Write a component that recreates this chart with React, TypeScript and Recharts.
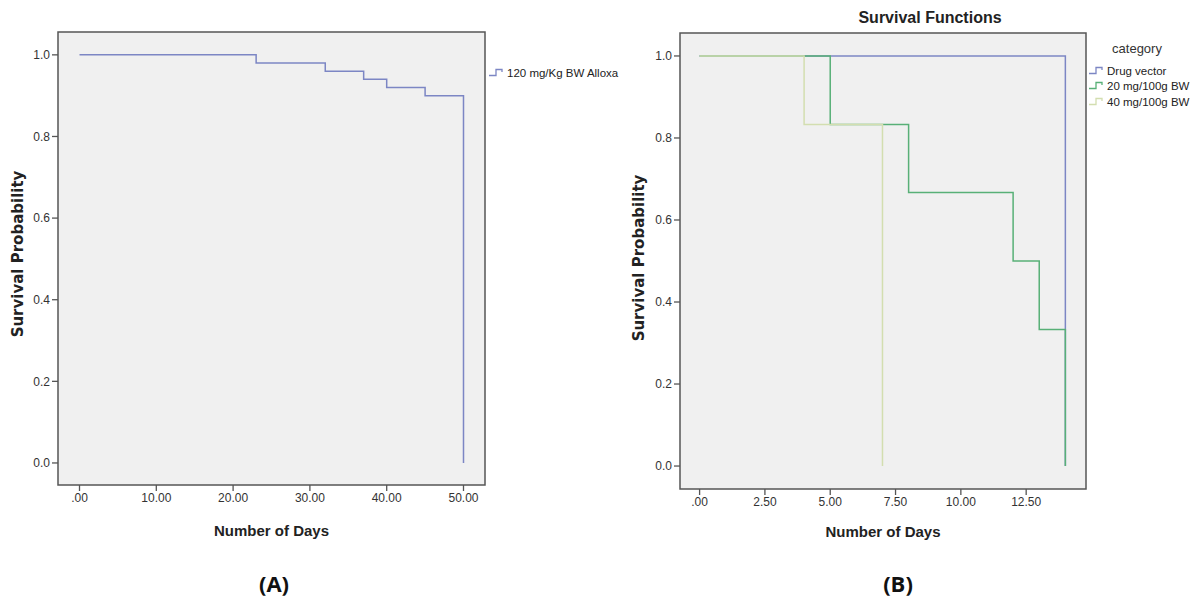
import React from "react";
import { LineChart, Line, XAxis, YAxis, CartesianGrid, ReferenceArea } from "recharts";

// ---- Data (A) ----
const alloxanDays = [0, 23, 32, 37, 40, 45, 50];
const alloxanSurvival = [1.0, 0.98, 0.96, 0.94, 0.92, 0.9, 0.0];
const ticksA = [0, 10, 20, 30, 40, 50];

// ---- Data (B) ----
const vectorDays = [0, 14];
const vectorSurvival = [1.0, 0.0];
const dose20Days = [0, 5, 8, 12, 13, 14];
const dose20Survival = [1.0, 0.833, 0.667, 0.5, 0.333, 0.0];
const dose40Days = [0, 4, 7];
const dose40Survival = [1.0, 0.833, 0.0];
const ticksB = [0, 2.5, 5, 7.5, 10, 12.5];

const yTicks = [0, 0.2, 0.4, 0.6, 0.8, 1.0];

const seriesALabels = ["120 mg/Kg BW Alloxa"];
const seriesBLabels = ["Drug vector", "20 mg/100g BW", "40 mg/100g BW"];

const BLUE = "#7c86c4";
const GREEN = "#58b077";
const LIGHT = "#d3deb0";
const FRAME = "#555555";

const toPoints = (xs: number[], ys: number[]) => xs.map((x, i) => ({ x, y: ys[i] }));

const dataA = toPoints(alloxanDays, alloxanSurvival);
const dataVector = toPoints(vectorDays, vectorSurvival);
const data20 = toPoints(dose20Days, dose20Survival);
const data40 = toPoints(dose40Days, dose40Survival);

const FONT = "'Liberation Sans', Arial, sans-serif";
const tickStyle = { fontSize: 12, fill: "#333", fontFamily: FONT };
const fmtX = (v: number) => (v === 0 ? ".00" : v.toFixed(2));
const fmtY = (v: number) => v.toFixed(1);

const StepIcon = ({ color }: { color: string }) => (
  <svg width={16} height={10} style={{ display: "block" }}>
    <path d="M0,7.5 H7 V1.5 H13 V4" fill="none" stroke={color} strokeWidth={1.3} />
  </svg>
);

const LegendRow = ({ color, label }: { color: string; label: string }) => (
  <div style={{ display: "flex", alignItems: "center", height: 15.5 }}>
    <StepIcon color={color} />
    <span style={{ fontSize: 11.5, color: "#222", fontFamily: FONT, marginLeft: 2, whiteSpace: "nowrap" }}>{label}</span>
  </div>
);

const abs = (s: React.CSSProperties): React.CSSProperties => ({ position: "absolute", whiteSpace: "nowrap", ...s });

export default function App() {
  return (
    <div style={{ position: "absolute", left: 0, top: 0, width: 1190, height: 601, background: "#fff", fontFamily: FONT }}>
      {/* Chart A */}
      <div style={abs({ left: 0, top: 0 })}>
        <LineChart width={600} height={601} margin={{ top: 32, left: 18, right: 115, bottom: 86 }}>
          <CartesianGrid horizontal={false} vertical={false} fill="#f0f0f0" />
          <XAxis
            type="number"
            dataKey="x"
            domain={[-2.8, 52.8]}
            allowDataOverflow
            ticks={ticksA}
            tickFormatter={fmtX}
            axisLine={false}
            tickLine={{ stroke: FRAME, strokeWidth: 1.3 }}
            tickSize={6}
            tick={tickStyle}
            height={30}
          />
          <YAxis
            type="number"
            domain={[-0.054, 1.056]}
            allowDataOverflow
            ticks={yTicks}
            tickFormatter={fmtY}
            axisLine={false}
            tickLine={{ stroke: FRAME, strokeWidth: 1.3 }}
            tickSize={6}
            tickMargin={2}
            tick={tickStyle}
            width={40}
          />
          <ReferenceArea x1={-2.8} x2={52.8} y1={-0.054} y2={1.056} fill="none" stroke={FRAME} strokeWidth={1.5} ifOverflow="visible" />
          <Line data={dataA} dataKey="y" type="stepAfter" stroke={BLUE} strokeWidth={1.5} dot={false} activeDot={false} isAnimationActive={false} />
        </LineChart>
      </div>

      {/* Chart B */}
      <div style={abs({ left: 600, top: 0 })}>
        <LineChart width={590} height={601} margin={{ top: 33, left: 40, right: 104, bottom: 82 }}>
          <CartesianGrid horizontal={false} vertical={false} fill="#f0f0f0" />
          <XAxis
            type="number"
            dataKey="x"
            domain={[-0.75, 14.79]}
            allowDataOverflow
            ticks={ticksB}
            tickFormatter={fmtX}
            axisLine={false}
            tickLine={{ stroke: FRAME, strokeWidth: 1.3 }}
            tickSize={6}
            tick={tickStyle}
            height={30}
          />
          <YAxis
            type="number"
            domain={[-0.056, 1.056]}
            allowDataOverflow
            ticks={yTicks}
            tickFormatter={fmtY}
            axisLine={false}
            tickLine={{ stroke: FRAME, strokeWidth: 1.3 }}
            tickSize={6}
            tickMargin={2}
            tick={tickStyle}
            width={40}
          />
          <ReferenceArea x1={-0.75} x2={14.79} y1={-0.056} y2={1.056} fill="none" stroke={FRAME} strokeWidth={1.5} ifOverflow="visible" />
          <Line data={dataVector} dataKey="y" type="stepAfter" stroke={BLUE} strokeWidth={1.5} dot={false} activeDot={false} isAnimationActive={false} />
          <Line data={data20} dataKey="y" type="stepAfter" stroke={GREEN} strokeWidth={1.5} dot={false} activeDot={false} isAnimationActive={false} />
          <Line data={data40} dataKey="y" type="stepAfter" stroke={LIGHT} strokeWidth={1.5} dot={false} activeDot={false} isAnimationActive={false} />
        </LineChart>
      </div>

      {/* Texts A */}
      <div style={abs({ left: 18, top: 254, transform: "translate(-50%,-50%) rotate(-90deg)", fontFamily: "'DejaVu Sans', sans-serif", fontWeight: "bold", fontSize: 15, color: "#222" })}>
        Survival Probability
      </div>
      <div style={abs({ left: 271.5, top: 530, transform: "translate(-50%,-50%)", fontWeight: "bold", fontSize: 15, color: "#222" })}>
        Number of Days
      </div>
      <div style={abs({ left: 274, top: 583, transform: "translate(-50%,-50%)", fontFamily: "'Open Sans', sans-serif", fontWeight: "bold", fontSize: 22, color: "#111" })}>
        (A)
      </div>
      <div style={abs({ left: 489, top: 65 })}>
        <LegendRow color={BLUE} label={seriesALabels[0]} />
      </div>

      {/* Texts B */}
      <div style={abs({ left: 930, top: 18, transform: "translate(-50%,-50%)", fontWeight: "bold", fontSize: 16, color: "#222" })}>
        Survival Functions
      </div>
      <div style={abs({ left: 639, top: 258, transform: "translate(-50%,-50%) rotate(-90deg)", fontFamily: "'DejaVu Sans', sans-serif", fontWeight: "bold", fontSize: 15, color: "#222" })}>
        Survival Probability
      </div>
      <div style={abs({ left: 883, top: 531, transform: "translate(-50%,-50%)", fontWeight: "bold", fontSize: 15, color: "#222" })}>
        Number of Days
      </div>
      <div style={abs({ left: 898, top: 583, transform: "translate(-50%,-50%)", fontFamily: "'Open Sans', sans-serif", fontWeight: "bold", fontSize: 22, color: "#111" })}>
        (B)
      </div>
      <div style={abs({ left: 1137, top: 48, transform: "translate(-50%,-50%)", fontSize: 13, color: "#333" })}>category</div>
      <div style={abs({ left: 1089, top: 63 })}>
        <LegendRow color={BLUE} label={seriesBLabels[0]} />
        <LegendRow color={GREEN} label={seriesBLabels[1]} />
        <LegendRow color={LIGHT} label={seriesBLabels[2]} />
      </div>
    </div>
  );
}
